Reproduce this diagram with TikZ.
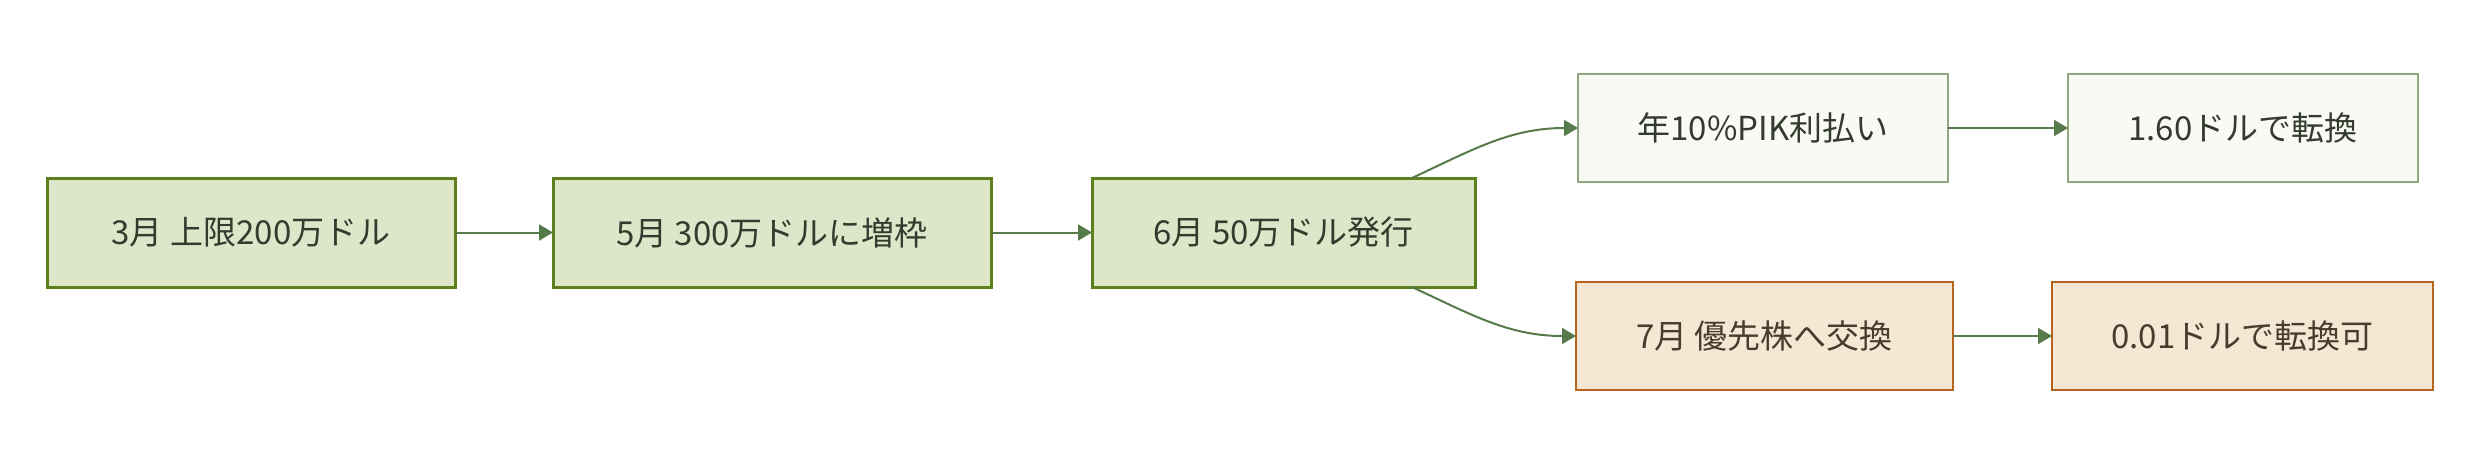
\documentclass[tikz,border=0pt]{standalone}
\usepackage{fontspec}
\setmainfont{Noto Sans CJK JP}
\usetikzlibrary{positioning,calc}
\usetikzlibrary{arrows.meta}
\definecolor{stagefill}{HTML}{DDE6C8}
\definecolor{stageline}{HTML}{5E7F1E}
\definecolor{pikfill}{HTML}{F9FAF4}
\definecolor{pikline}{HTML}{94A67D}
\definecolor{preffill}{HTML}{F6E6D4}
\definecolor{prefline}{HTML}{B4641E}
\definecolor{flowline}{HTML}{567A4A}
\definecolor{darktext}{HTML}{333B2E}
\definecolor{browntext}{HTML}{4A3B2A}

\begin{document}
\begin{tikzpicture}[
	stage/.style={rectangle, draw=stageline, fill=stagefill, line width=1.5pt, minimum height=54.5pt, outer sep=0pt, text=darktext, font=\fontsize{16.5}{19}\selectfont},
	pik/.style={rectangle, draw=pikline, fill=pikfill, line width=1pt, minimum height=54pt, outer sep=0pt, text=darktext, font=\fontsize{16.5}{19}\selectfont},
	pref/.style={rectangle, draw=prefline, fill=preffill, line width=1pt, minimum height=54pt, outer sep=0pt, text=browntext, font=\fontsize{16.5}{19}\selectfont},
	flow/.style={draw=flowline, line width=1pt, -{Triangle[length=7pt,width=8pt]}}
]
				\useasboundingbox (0,0) rectangle (1240pt,234pt);
				% main line
				\node[stage, minimum width=204pt] (march) at (125.5pt,117.75pt) {3月 上限200万ドル};
				\node[stage, minimum width=219pt, right=49pt of march] (may) {5月 300万ドルに増枠};
				\node[stage, minimum width=191.5pt, right=50.5pt of may] (june) {6月 50万ドル発行};
				% branches
				\node[pik, minimum width=185pt, right=51.5pt of june, yshift=52.25pt] (interest) {年10\%PIK利払い};
				\node[pik, minimum width=175pt, right=60pt of interest] (convA) {1.60ドルで転換};
				\node[pref, minimum width=188.5pt, right=50.5pt of june, yshift=-51.75pt] (july) {7月 優先株へ交換};
				\node[pref, minimum width=190.5pt, right=49.5pt of july] (convB) {0.01ドルで転換可};
				% connectors
				\draw[flow] (march) -- (may);
				\draw[flow] (may) -- (june);
				\draw[flow] ([xshift=-31.5pt]june.north east) to[out=25,in=180] (interest.west);
				\draw[flow] ([xshift=-31.5pt]june.south east) to[out=-25,in=180] (july.west);
				\draw[flow] (interest) -- (convA);
				\draw[flow] (july) -- (convB);
			\end{tikzpicture}
\end{document}
